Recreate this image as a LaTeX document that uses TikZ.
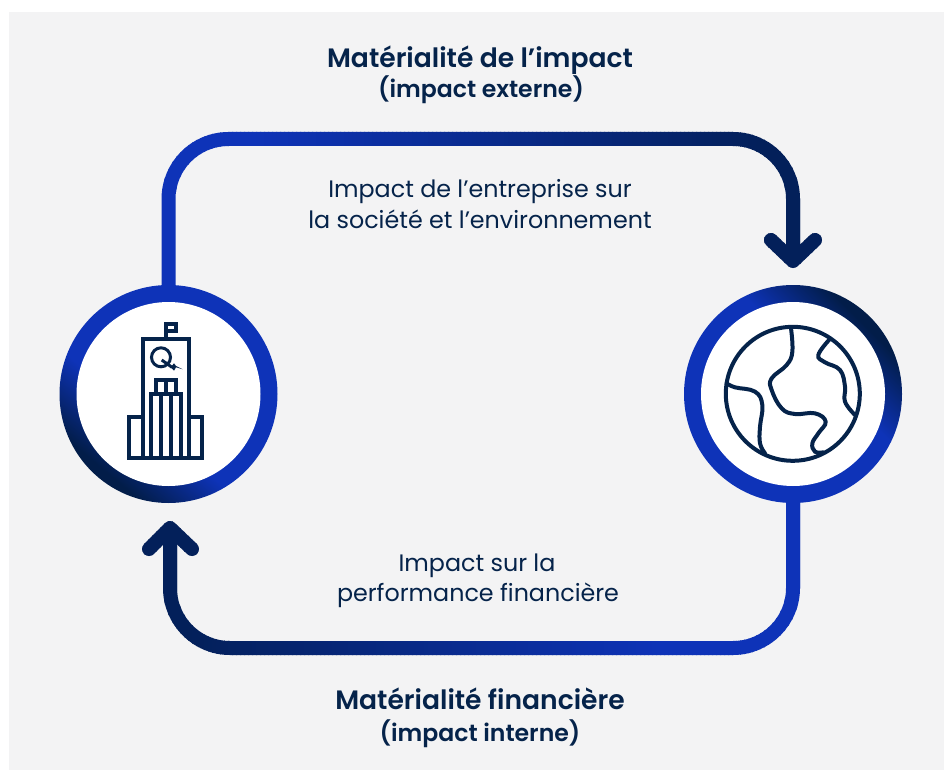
\documentclass[tikz,border=0pt]{standalone}
\usepackage{fontspec}
\setmainfont{Poppins}
\newfontfamily\semibold{Poppins SemiBold}
\usetikzlibrary{calc}
\definecolor{pagegray}{HTML}{F3F3F4}
\definecolor{brandblue}{HTML}{0E33B8}
\definecolor{branddark}{HTML}{021D49}
\definecolor{linedark}{HTML}{03205A}
\definecolor{inkblue}{HTML}{05234A}
\pgfdeclarehorizontalshading{ringdarkleft}{100bp}{color(0bp)=(branddark); color(27bp)=(branddark); color(42bp)=(brandblue); color(100bp)=(brandblue)}
\pgfdeclarehorizontalshading{ringdarkright}{100bp}{color(0bp)=(brandblue); color(58bp)=(brandblue); color(73bp)=(branddark); color(100bp)=(branddark)}
\tikzset{
  ringnode/.style={circle,inner sep=0pt,minimum size=218pt,draw=none},
  corenode/.style={circle,inner sep=0pt,minimum size=184pt,fill=white,draw=none},
  headtext/.style={anchor=base,inner sep=0pt,text=inkblue,font=\semibold\fontsize{26.6}{26.6}\selectfont},
  subheadtext/.style={anchor=base,inner sep=0pt,text=inkblue,font=\semibold\fontsize{23.6}{23.6}\selectfont},
  bodytext/.style={anchor=base,inner sep=0pt,text=inkblue,font=\fontsize{23.8}{23.8}\selectfont},
  flowline/.style={line width=14pt,line cap=round,line join=round},
  icon/.style={draw=inkblue,line width=4pt,line join=miter},
  globeline/.style={draw=inkblue,line width=4pt,line cap=round,smooth,tension=0.7}
}
\begin{document}
\begin{tikzpicture}[x=1pt,y=-1pt]
\useasboundingbox (0,0) rectangle (944,770);
\fill[pagegray] (9,12) rectangle (944,770);

% rings
\node[ringnode,shading=ringdarkleft,shading angle=50] (ringL) at (168.5,394) {};
\node[corenode] (coreL) at (168.5,394) {};
\node[ringnode,shading=ringdarkright,shading angle=45] (ringR) at (793,394) {};
\node[corenode] (coreR) at (793,394) {};

% free ends
\coordinate (topL) at (169,139);
\coordinate (tipT) at (793,261);
\coordinate (armTa) at (771,240);
\coordinate (armTb) at (815,240);
\coordinate (botR) at (794,648);
\coordinate (tipB) at (170,528);
\coordinate (armBa) at (149,549);
\coordinate (armBb) at (192,549);

% top connector: colour follows x
\foreach \sx in {160,164,...,824}{
  \pgfmathsetmacro{\share}{max(0,min(100,(\sx-250)/(760-250)*100))}
  \colorlet{stripcol}{linedark!\share!brandblue}
  \begin{scope}
    \clip (\sx,100) rectangle (\sx+5,295);
    \draw[flowline,stripcol,line cap=butt,rounded corners=60pt] ([yshift=-3pt]ringL.north) |- (topL -| ringR) -- (tipT);
    \draw[flowline,stripcol] (armTa) -- (tipT) -- (armTb);
  \end{scope}
}
% bottom connector
\foreach \sx in {136,140,...,804}{
  \pgfmathsetmacro{\share}{max(0,min(100,(\sx-190)/(660-190)*100))}
  \colorlet{stripcol}{brandblue!\share!linedark}
  \begin{scope}
    \clip (\sx,495) rectangle (\sx+5,665);
    \draw[flowline,stripcol,line cap=butt,rounded corners=60pt] ([yshift=3pt]ringR.south) |- (botR -| tipB) -- (tipB);
    \draw[flowline,stripcol] (armBa) -- (tipB) -- (armBb);
  \end{scope}
}

% building
\draw[icon] (142.7,458) -- (142.7,338.7) -- (189,338.7) -- (189,458);
\draw[icon] (142.7,417) -- (129.3,417) -- (129.3,458) -- (202.3,458) -- (202.3,417) -- (189,417);
\draw[icon] (151,458) -- (151,394.3) -- (180.5,394.3) -- (180.5,458);
\draw[icon] (160.7,394.3) -- (160.7,458);
\draw[icon] (170.7,394.3) -- (170.7,458);
\draw[icon] (156,394.3) -- (156,380.3) -- (176,380.3) -- (176,394.3);
\draw[icon] (166,380.3) -- (166,394.3);
\draw[icon] (166,338) -- (166,323.7) -- (176.3,323.7) -- (176.3,331.3) -- (166,331.3);
\draw[icon,line width=3pt] (161,357.3) circle (9.5);
\draw[icon,line width=3pt] (161.7,360) -- (172,367.3);
\fill[inkblue] (170.7,367.3) -- (174,363.3) -- (176,366) -- (182.7,369.3) -- (176,367.3) -- (174,370.7) -- cycle;

% globe
\draw[icon] (coreR.center) ++(-0.2,-0.2) circle (67);
\begin{scope}[shift={(675,280)},x=0.33333pt,y=-0.33333pt]
\draw[globeline] plot coordinates {(348,145) (352,215) (335,255) (290,295) (290,330) (320,385) (360,402) (420,400) (452,425) (430,460) (412,490) (420,515) (445,517)};
\draw[globeline] plot coordinates {(462,180) (430,225) (450,247) (495,270) (510,320) (510,365) (540,405)};
\draw[globeline] plot coordinates {(155,310) (180,322) (240,335) (262,375) (255,440) (255,490) (270,520)};
\end{scope}

% text
\node[headtext] (t1) at (480,68) {Matérialité de l’impact};
\node[subheadtext] (t2) at (481,98) {(impact externe)};
\node[bodytext] (t3) at (480,197) {Impact de l’entreprise sur};
\node[bodytext] (t4) at (480,228) {la société et l’environnement};
\node[bodytext] (t5) at (477,571) {Impact sur la};
\node[bodytext] (t6) at (478,601) {performance financière};
\node[headtext] (t7) at (480,709) {Matérialité financière};
\node[subheadtext] (t8) at (480,741) {(impact interne)};
\end{tikzpicture}
\end{document}
